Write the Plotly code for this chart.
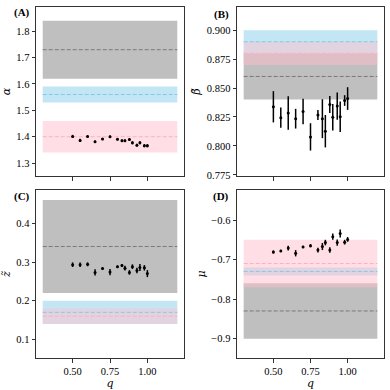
import plotly.graph_objects as go
from plotly.subplots import make_subplots

# Data --
q = [0.50, 0.55, 0.60, 0.65, 0.70, 0.75, 0.80, 0.83, 0.85, 0.88, 0.90, 0.93, 0.95, 0.98, 1.00]

alpha = [1.401, 1.386, 1.401, 1.381, 1.391, 1.400, 1.390, 1.385, 1.385, 1.389, 1.377, 1.368, 1.377, 1.366, 1.366]
alpha_err = [0.006, 0.006, 0.004, 0.005, 0.004, 0.005, 0.004, 0.005, 0.005, 0.005, 0.006, 0.005, 0.006, 0.006, 0.006]

beta = [0.8338, 0.8244, 0.8284, 0.8235, 0.8298, 0.8078, 0.8267, 0.8235, 0.8127, 0.8358, 0.8247, 0.8344, 0.8252, 0.8392, 0.8409]
beta_err = [0.0135, 0.0087, 0.0145, 0.0085, 0.0110, 0.0118, 0.0043, 0.0168, 0.0140, 0.0074, 0.0114, 0.0117, 0.0131, 0.0046, 0.0098]

z = [0.293, 0.293, 0.294, 0.273, 0.283, 0.274, 0.288, 0.291, 0.284, 0.273, 0.288, 0.278, 0.286, 0.285, 0.270]
z_err = [0.006, 0.006, 0.005, 0.008, 0.003, 0.008, 0.003, 0.004, 0.006, 0.006, 0.006, 0.007, 0.009, 0.007, 0.009]

mu = [-0.681, -0.678, -0.671, -0.684, -0.668, -0.665, -0.676, -0.667, -0.657, -0.676, -0.642, -0.657, -0.634, -0.656, -0.649]
mu_err = [0.004, 0.003, 0.006, 0.008, 0.003, 0.004, 0.006, 0.009, 0.007, 0.007, 0.008, 0.008, 0.010, 0.006, 0.006]

# reference values (center, half width) for gray / blue / pink bands
band_x = [0.3, 1.2]
gray_ref = {'A': (1.73, 0.11), 'B': (0.86, 0.02), 'C': (0.34, 0.12), 'D': (-0.83, 0.07)}
blue_ref = {'A': (1.56, 0.03), 'B': (0.89, 0.01), 'C': (0.17, 0.03), 'D': (-0.73, 0.01)}
pink_ref = {'A': (1.40, 0.06), 'B': (0.88, 0.01), 'C': (0.16, 0.02), 'D': (-0.71, 0.06)}

band_styles = [
    (gray_ref, 'rgba(128,128,128,0.5)', '#7a7a7a'),
    (blue_ref, 'rgba(135,206,235,0.5)', '#87c8e6'),
    (pink_ref, 'rgba(255,192,203,0.5)', '#ffb0bf'),
]

panels = [
    ('A', 1, 1, alpha, alpha_err, 'α', [1.251, 1.892], [1.3, 1.4, 1.5, 1.6, 1.7, 1.8], '.1f'),
    ('B', 1, 2, beta, beta_err, 'β̃', [0.774, 0.920], [0.775, 0.8, 0.825, 0.85, 0.875, 0.9], '.3f'),
    ('C', 2, 1, z, z_err, 'z̃', [0.052, 0.486], [0.1, 0.2, 0.3, 0.4], '.1f'),
    ('D', 2, 2, mu, mu_err, 'μ', [-0.949, -0.524], [-0.9, -0.8, -0.7, -0.6], '.1f'),
]

font = 'Liberation Serif'
label_font = dict(size=11, family='DejaVu Serif', style='italic')

fig = make_subplots(rows=2, cols=2)

for name, r, c, vals, errs, label, yr, yt, yfmt in panels:
    for ref, fillc, linec in band_styles:
        center, half = ref[name]
        fig.add_trace(go.Scatter(
            x=[band_x[0], band_x[1], band_x[1], band_x[0], band_x[0]],
            y=[center - half, center - half, center + half, center + half, center - half],
            fill='toself', fillcolor=fillc, mode='none', hoverinfo='skip', showlegend=False), row=r, col=c)
    for ref, fillc, linec in band_styles:
        center, half = ref[name]
        fig.add_trace(go.Scatter(
            x=band_x, y=[center, center], mode='lines',
            line=dict(color=linec, width=1, dash='4px,2px'), showlegend=False), row=r, col=c)
    fig.add_trace(go.Scatter(
        x=q, y=vals, mode='markers',
        marker=dict(color='black', size=3),
        error_y=dict(type='data', array=errs, color='black', thickness=1.5, width=0),
        showlegend=False), row=r, col=c)
    fig.update_yaxes(range=yr, tickvals=yt, tickformat=yfmt,
                     title=dict(text=label, standoff=3, font=label_font), row=r, col=c)
    fig.update_xaxes(range=[0.255, 1.245], tickvals=[0.5, 0.75, 1.0], tickformat='.2f',
                     showticklabels=(r == 2), row=r, col=c)

fig.update_xaxes(title=dict(text='q', standoff=1, font=label_font), row=2, col=1)
fig.update_xaxes(title=dict(text='q', standoff=1, font=label_font), row=2, col=2)

axis_style = dict(showline=True, mirror=True, linecolor='#333333', linewidth=1,
                  ticks='outside', ticklen=3.5, tickcolor='#333333', showgrid=False,
                  zeroline=False, tickfont=dict(size=10.5), automargin=False)
fig.update_xaxes(**axis_style)
fig.update_yaxes(**axis_style)

# panel placement in pixels of the 390x390 figure
W = 390.0
fig.update_layout(
    xaxis=dict(domain=[36 / W, 184 / W]), yaxis=dict(domain=[1 - 176 / W, 1 - 7 / W]),
    xaxis2=dict(domain=[237 / W, 384 / W]), yaxis2=dict(domain=[1 - 176 / W, 1 - 7 / W]),
    xaxis3=dict(domain=[36 / W, 184 / W]), yaxis3=dict(domain=[1 - 358 / W, 1 - 190 / W]),
    xaxis4=dict(domain=[237 / W, 384 / W]), yaxis4=dict(domain=[1 - 358 / W, 1 - 190 / W]),
)

for text, px_, py_ in [('(A)', 32, 13), ('(B)', 231, 15), ('(C)', 32, 196), ('(D)', 231, 196)]:
    fig.add_annotation(text='<b>' + text + '</b>', xref='paper', yref='paper',
                       x=px_ / W, y=1 - py_ / W, xanchor='right', yanchor='middle',
                       showarrow=False, font=dict(size=11, family=font, color='black'))

fig.update_layout(
    width=390, height=390,
    margin=dict(l=0, r=0, t=0, b=0),
    paper_bgcolor='white', plot_bgcolor='white',
    font=dict(family=font, color='black', size=10.5),
)

fig.write_html("out.html", config={'displayModeBar': False},
               post_script="document.body.style.margin='0';")
